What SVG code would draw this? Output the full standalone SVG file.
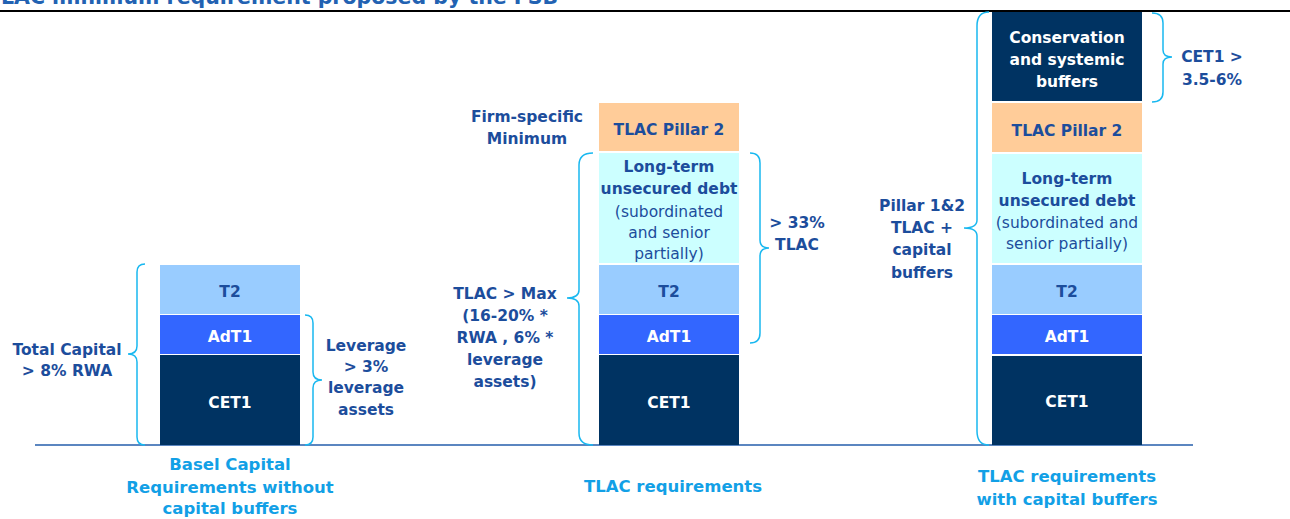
<svg xmlns="http://www.w3.org/2000/svg" width="1290" height="519" viewBox="0 0 1290 519">
<defs>
<style>
.lbl{font-family:"DejaVu Sans",Verdana,sans-serif;font-weight:bold;font-size:15.5px;fill:#1c4d9c;text-anchor:middle}
.in{font-family:"DejaVu Sans",Verdana,sans-serif;font-weight:bold;font-size:15.5px;text-anchor:middle}
.dk{fill:#1c4d9c}
.wh{fill:#ffffff}
.rg{font-weight:normal;font-size:15.5px}
.cap{font-family:"DejaVu Sans",Verdana,sans-serif;font-weight:bold;font-size:16.5px;fill:#12a0e6;text-anchor:middle}
.brace{fill:none;stroke:#19b8f0;stroke-width:1.5}
.cet1{fill:#003362}
.adt1{fill:#3366ff}
.t2{fill:#99ccff}
.ltd{fill:#ccffff}
.p2{fill:#ffcc99}
</style>
</defs>
<rect width="1290" height="519" fill="#ffffff"/>
<g id="title">
<text x="1" y="4" font-family="DejaVu Sans,Verdana,sans-serif" font-weight="bold" font-size="20.5" fill="#2262b2">LAC minimum requirement proposed by the FSB</text>
<line x1="0" y1="11" x2="1290" y2="11" stroke="#000000" stroke-width="2"/>
</g>
<line id="axis" x1="35" y1="445" x2="1193" y2="445" stroke="#5b86c0" stroke-width="2"/>

<g id="stack-basel">
<rect class="t2" x="160" y="265" width="140" height="49"/>
<rect class="adt1" x="160" y="315" width="140" height="39"/>
<rect class="cet1" x="160" y="355" width="140" height="90"/>
<text class="in dk" x="230" y="297">T2</text>
<text class="in wh" x="230" y="342">AdT1</text>
<text class="in wh" x="230" y="408">CET1</text>
</g>

<g id="stack-tlac">
<rect class="p2" x="599" y="103" width="140" height="48"/>
<rect class="ltd" x="599" y="153" width="140" height="110"/>
<rect class="t2" x="599" y="265" width="140" height="49"/>
<rect class="adt1" x="599" y="315" width="140" height="39"/>
<rect class="cet1" x="599" y="355" width="140" height="90"/>
<text class="in dk" x="669" y="135">TLAC Pillar 2</text>
<text class="in dk" x="669" y="172">Long-term</text>
<text class="in dk" x="669" y="194">unsecured debt</text>
<text class="in dk rg" x="669" y="217">(subordinated</text>
<text class="in dk rg" x="669" y="238">and senior</text>
<text class="in dk rg" x="669" y="259">partially)</text>
<text class="in dk" x="669" y="297">T2</text>
<text class="in wh" x="669" y="342">AdT1</text>
<text class="in wh" x="669" y="408">CET1</text>
</g>

<g id="stack-buffers">
<rect class="cet1" x="992" y="12" width="150" height="89"/>
<rect class="p2" x="992" y="103" width="150" height="49"/>
<rect class="ltd" x="992" y="154" width="150" height="109"/>
<rect class="t2" x="992" y="265" width="150" height="49"/>
<rect class="adt1" x="992" y="315" width="150" height="39"/>
<rect class="cet1" x="992" y="356" width="150" height="89"/>
<text class="in wh" x="1067" y="43">Conservation</text>
<text class="in wh" x="1067" y="65">and systemic</text>
<text class="in wh" x="1067" y="87">buffers</text>
<text class="in dk" x="1067" y="136">TLAC Pillar 2</text>
<text class="in dk" x="1067" y="184">Long-term</text>
<text class="in dk" x="1067" y="206">unsecured debt</text>
<text class="in dk rg" x="1067" y="228">(subordinated and</text>
<text class="in dk rg" x="1067" y="249">senior partially)</text>
<text class="in dk" x="1067" y="297">T2</text>
<text class="in wh" x="1067" y="342">AdT1</text>
<text class="in wh" x="1067" y="407">CET1</text>
</g>

<g id="connectors">
<path class="brace" d="M145,264 Q137,264 137,272 L137,346 Q137,354 128,354 Q137,354 137,362 L137,437 Q137,445 145,445"/>
<path class="brace" d="M305,315 Q313,315 313,323 L313,372 Q313,380 322,380 Q313,380 313,388 L313,437 Q313,445 305,445"/>
<path class="brace" d="M593,153 Q579,153 579,165 L579,290 Q579,298 567,298 Q579,298 579,306 L579,433 Q579,445 593,445"/>
<path class="brace" d="M750,153 Q760,153 760,163 L760,240 Q760,248 769,248 Q760,248 760,256 L760,333 Q760,343 750,343"/>
<path class="brace" d="M989,12 Q977,12 977,26 L977,220 Q977,228 964,228 Q977,228 977,236 L977,431 Q977,445 989,445"/>
<path class="brace" d="M1152,13 Q1163,13 1163,23 L1163,50 Q1163,57 1172,57 Q1163,57 1163,64 L1163,92 Q1163,102 1152,102"/>
</g>

<g id="labels">
<text class="lbl" x="67" y="355">Total Capital</text>
<text class="lbl" x="67" y="376">&gt; 8% RWA</text>
<text class="lbl" x="366" y="351">Leverage</text>
<text class="lbl" x="366" y="372">&gt; 3%</text>
<text class="lbl" x="366" y="393">leverage</text>
<text class="lbl" x="366" y="415">assets</text>
<text class="lbl" x="527" y="122">Firm-specific</text>
<text class="lbl" x="527" y="144">Minimum</text>
<text class="lbl" x="505" y="299">TLAC &gt; Max</text>
<text class="lbl" x="505" y="321">(16-20% *</text>
<text class="lbl" x="505" y="343">RWA , 6% *</text>
<text class="lbl" x="505" y="365">leverage</text>
<text class="lbl" x="505" y="387">assets)</text>
<text class="lbl" x="797" y="228">&gt; 33%</text>
<text class="lbl" x="797" y="250">TLAC</text>
<text class="lbl" x="922" y="211">Pillar 1&amp;2</text>
<text class="lbl" x="922" y="233">TLAC +</text>
<text class="lbl" x="922" y="255">capital</text>
<text class="lbl" x="922" y="278">buffers</text>
<text class="lbl" x="1212" y="62">CET1 &gt;</text>
<text class="lbl" x="1212" y="85">3.5-6%</text>
</g>

<g id="captions">
<text class="cap" x="230" y="470">Basel Capital</text>
<text class="cap" x="230" y="493">Requirements without</text>
<text class="cap" x="230" y="514">capital buffers</text>
<text class="cap" x="673" y="492">TLAC requirements</text>
<text class="cap" x="1067" y="482">TLAC requirements</text>
<text class="cap" x="1067" y="505">with capital buffers</text>
</g>
</svg>
